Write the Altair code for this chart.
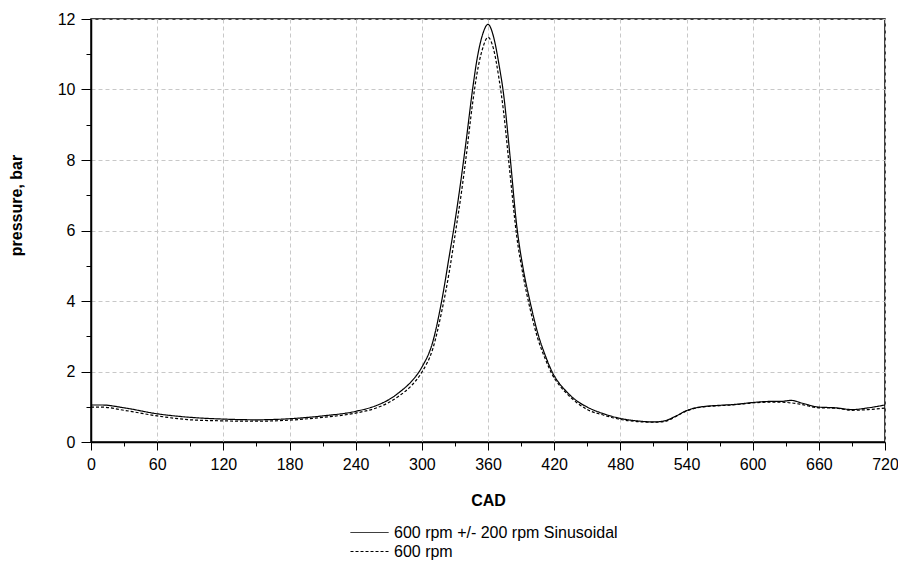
import altair as alt
import pandas as pd

series_names = ["600 rpm +/- 200 rpm Sinusoidal", "600 rpm"]

cad = [0, 10, 30, 60, 90, 120, 150, 180, 210, 240, 260, 270, 280, 290, 300,
       310, 318, 325, 330, 336, 340, 346, 350, 355, 360, 365, 370, 374, 380,
       386, 392, 398, 405, 412, 418, 425, 430, 440, 450, 465, 480, 495, 510,
       520, 530, 540, 550, 560, 570, 585, 600, 615, 625, 635, 645, 660, 675,
       690, 705, 720]

sinusoidal = [1.05, 1.05, 0.97, 0.80, 0.70, 0.65, 0.63, 0.66, 0.74, 0.87, 1.05,
              1.20, 1.42, 1.70, 2.12, 2.85, 4.00, 5.30, 6.25, 7.55, 8.50, 10.00,
              10.85, 11.55, 11.85, 11.50, 10.70, 9.90, 8.10, 6.15, 4.90, 4.00,
              3.10, 2.45, 2.00, 1.65, 1.47, 1.18, 0.99, 0.80, 0.67, 0.60, 0.57,
              0.60, 0.73, 0.89, 0.98, 1.02, 1.04, 1.07, 1.12, 1.15, 1.15, 1.18,
              1.10, 0.99, 0.97, 0.92, 0.97, 1.05]

constant = [0.99, 0.99, 0.90, 0.74, 0.63, 0.60, 0.59, 0.62, 0.70, 0.82, 0.98,
            1.12, 1.32, 1.58, 1.98, 2.65, 3.70, 4.85, 5.85, 7.10, 8.05, 9.60,
            10.45, 11.15, 11.48, 11.15, 10.30, 9.40, 7.60, 5.85, 4.70, 3.80,
            2.95, 2.35, 1.93, 1.60, 1.42, 1.13, 0.92, 0.76, 0.64, 0.58, 0.56,
            0.58, 0.72, 0.88, 0.97, 1.01, 1.03, 1.06, 1.11, 1.13, 1.13, 1.11,
            1.06, 0.97, 0.96, 0.90, 0.92, 0.96]

x_major = list(range(0, 721, 60))
x_minor = list(range(30, 721, 60))
y_major = [0, 2, 4, 6, 8, 10, 12]
y_minor = [1, 3, 5, 7, 9, 11]

rows = []
for x, a, b in zip(cad, sinusoidal, constant):
    rows.append({"CAD": x, "pressure": a, "series": series_names[0]})
    rows.append({"CAD": x, "pressure": b, "series": series_names[1]})
df = pd.DataFrame(rows)

FONT = "Liberation Sans"
x_scale = alt.Scale(domain=[0, 720], nice=False, zero=False)
y_scale = alt.Scale(domain=[0, 12], nice=False, zero=False)

lines = alt.Chart(df).mark_line(
    color="black", strokeWidth=1.2, interpolate="monotone"
).encode(
    x=alt.X("CAD:Q", scale=x_scale, axis=alt.Axis(
        orient="bottom", values=x_major, title="CAD", tickSize=8, labelPadding=6,
        grid=True, gridDash=[4, 3], gridColor="#c8c8c8", gridWidth=1,
        titleY=63, titleBaseline="alphabetic", labelFlush=False,
    )),
    y=alt.Y("pressure:Q", scale=y_scale, axis=alt.Axis(
        orient="left", values=y_major, title="pressure, bar", tickSize=10,
        labelPadding=6, grid=True, gridDash=[4, 3], gridColor="#c8c8c8",
        gridWidth=1, titleX=-75, titleY=186, titleBaseline="middle",
        titleAngle=270,
    )),
    strokeDash=alt.StrokeDash(
        "series:N",
        scale=alt.Scale(domain=series_names, range=[[1, 0], [3, 2]]),
        legend=alt.Legend(
            title=None, orient="none", legendX=268, legendY=503,
            symbolType="M-1.9,0H1.9", symbolSize=400, symbolStrokeWidth=1,
            symbolStrokeColor="black", symbolFillColor="transparent",
            labelFont=FONT, labelFontSize=16,
            labelColor="black", labelOffset=14, labelLimit=0, rowPadding=0,
            padding=0,
        ),
    ),
)

minor = alt.Chart(df).mark_line(opacity=0).encode(
    x=alt.X("CAD:Q", scale=x_scale, axis=alt.Axis(
        orient="bottom", values=x_minor, title=None, labels=False, domain=False,
        grid=False, tickSize=4,
    )),
    y=alt.Y("pressure:Q", scale=y_scale, axis=alt.Axis(
        orient="left", values=y_minor, title=None, labels=False, domain=False,
        grid=False, tickSize=5,
    )),
    detail="series:N",
)

chart = alt.layer(lines, minor).resolve_axis(
    x="independent", y="independent"
).properties(
    width=794, height=423,
    autosize=alt.AutoSizeParams(type="none"),
    padding={"left": 83, "top": 11, "right": 13, "bottom": 120},
    background="white",
).configure_view(
    stroke="black", strokeWidth=1.5
).configure_axis(
    labelFont=FONT, labelFontSize=16, labelColor="black",
    titleFont=FONT, titleFontSize=16, titleFontWeight="bold", titleColor="black",
    domainColor="black", domainWidth=1.5, tickColor="black", tickWidth=1,
)

chart.save("out.html", embed_options={"renderer": "svg", "actions": False})
